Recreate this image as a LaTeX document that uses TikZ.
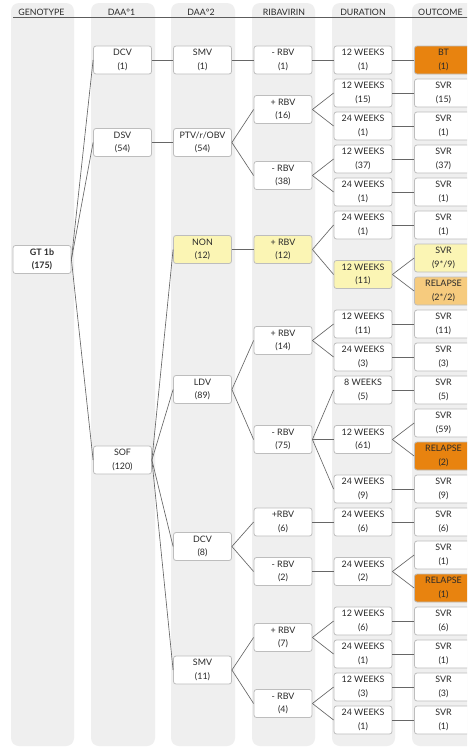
\documentclass[tikz,border=0pt]{standalone}
\usepackage{fontspec}
\setmainfont{Lato}
\definecolor{colbg}{HTML}{EFEFEF}
\definecolor{boxline}{HTML}{BDBDBD}
\definecolor{yel}{HTML}{FBF5B4}
\definecolor{lor}{HTML}{F6CB7E}
\definecolor{ora}{HTML}{E8830F}
\definecolor{conncol}{HTML}{666666}
\definecolor{txt}{HTML}{2A2A2A}
\tikzset{
  box/.style={draw=boxline, line width=0.8pt, fill=white, rounded corners=2.5pt,
    minimum width=58pt, minimum height=28pt, inner sep=0pt, align=center,
    text=txt, font=\fontsize{8.9}{13.5}\selectfont},
  wht/.style={},
  yelbox/.style={fill=yel},
  lorbox/.style={fill=lor},
  orabox/.style={fill=ora},
  conn/.style={draw=conncol, line width=0.65pt},
  colstrip/.style={fill=colbg, rounded corners=8pt, draw=none},
  hdr/.style={anchor=base, text=txt, font=\fontsize{8.8}{10}\selectfont, inner sep=0pt}
}
\begin{document}
\begin{tikzpicture}[x=1pt, y=-1pt]
\clip (0,0) rectangle (467,747);
\fill[white] (0,0) rectangle (467,747);
% column strips
\foreach \xa/\xb in {11/74, 91/155, 171/235, 252/315, 332/395, 412/480}
  \path[colstrip] (\xa,3) rectangle (\xb,746);
% headers
\node[hdr] (h0) at (41.5,15.5) {GENOTYPE};
\node[hdr] (h1) at (121.5,15.5) {DAA°1};
\node[hdr] (h2) at (201,15.5) {DAA°2};
\node[hdr] (h3) at (284,15.5) {RIBAVIRIN};
\node[hdr] (h4) at (363,15.5) {DURATION};
\node[hdr, anchor=base west] (h5) at (418,15.5) {OUTCOME};
\coordinate (hl) at (13,17.8);
\coordinate (hr) at (470,17.8);
\draw[draw=conncol!90!black, line width=0.9pt] (hl) -- (hr);
% genotype
\node[box, font=\fontsize{8.9}{13.5}\selectfont\bfseries] (gt) at (42,259.5) {GT 1b\\(175)};
% DAA 1
\foreach \n/\y/\s/\t in {d1a/60/wht/{DCV\\(1)}, d1b/142.5/wht/{DSV\\(54)}, d1c/460/wht/{SOF\\(120)}}
  \node[box,\s] (\n) at (122.5,\y) {\t};
% DAA 2
\foreach \n/\y/\s/\t in {d2a/60/wht/{SMV\\(1)}, d2b/142.5/wht/{PTV/\textit{r}/OBV\\(54)},
  d2c/249.5/yelbox/{NON\\(12)}, d2d/389.5/wht/{LDV\\(89)}, d2e/546.5/wht/{DCV\\(8)},
  d2f/670/wht/{SMV\\(11)}}
  \node[box,\s] (\n) at (202.5,\y) {\t};
% Ribavirin
\foreach \n/\y/\s/\t in {r1/60/wht/{- RBV\\(1)}, r2/109.5/wht/{+ RBV\\(16)},
  r3/175.5/wht/{- RBV\\(38)}, r4/249.5/yelbox/{+ RBV\\(12)}, r5/340.5/wht/{+ RBV\\(14)},
  r6/439.5/wht/{- RBV\\(75)}, r7/522/wht/{+RBV\\(6)}, r8/571.5/wht/{- RBV\\(2)},
  r9/637.5/wht/{+ RBV\\(7)}, r10/703.5/wht/{- RBV\\(4)}}
  \node[box,\s] (\n) at (283,\y) {\t};
% Duration
\foreach \n/\y/\s/\t in {du1/60/wht/{12 WEEKS\\(1)}, du2/93/wht/{12 WEEKS\\(15)},
  du3/126/wht/{24 WEEKS\\(1)}, du4/159/wht/{12 WEEKS\\(37)}, du5/192/wht/{24 WEEKS\\(1)},
  du6/225/wht/{24 WEEKS\\(1)}, du7/274.5/yelbox/{12 WEEKS\\(11)}, du8/324/wht/{12 WEEKS\\(11)},
  du9/357/wht/{24 WEEKS\\(3)}, du10/390/wht/{8 WEEKS\\(5)}, du11/439.5/wht/{12 WEEKS\\(61)},
  du12/489/wht/{24 WEEKS\\(9)}, du13/522/wht/{24 WEEKS\\(6)}, du14/571.5/wht/{24 WEEKS\\(2)},
  du15/621/wht/{12 WEEKS\\(6)}, du16/654/wht/{24 WEEKS\\(1)}, du17/687/wht/{12 WEEKS\\(3)},
  du18/720/wht/{24 WEEKS\\(1)}}
  \node[box,\s] (\n) at (363,\y) {\t};
% Outcome
\foreach \n/\y/\s/\t in {o1/60/orabox/{BT\\(1)}, o2/93/wht/{SVR\\(15)}, o3/126/wht/{SVR\\(1)},
  o4/159/wht/{SVR\\(37)}, o5/192/wht/{SVR\\(1)}, o6/225/wht/{SVR\\(1)},
  o7/258/yelbox/{SVR\\(9*/9)}, o8/291/lorbox/{RELAPSE\\(2*/2)}, o9/324/wht/{SVR\\(11)},
  o10/357/wht/{SVR\\(3)}, o11/390/wht/{SVR\\(5)}, o12/423/wht/{SVR\\(59)},
  o13/456/orabox/{RELAPSE\\(2)}, o14/489/wht/{SVR\\(9)}, o15/522/wht/{SVR\\(6)},
  o16/555/wht/{SVR\\(1)}, o17/588/orabox/{RELAPSE\\(1)}, o18/621/wht/{SVR\\(6)},
  o19/654/wht/{SVR\\(1)}, o20/687/wht/{SVR\\(3)}, o21/720/wht/{SVR\\(1)}}
  \node[box,\s] (\n) at (443.5,\y) {\t};
% connectors
\foreach \a/\b in {gt/d1a, gt/d1b, gt/d1c,
  d1a/d2a, d1b/d2b, d1c/d2c, d1c/d2d, d1c/d2e, d1c/d2f,
  d2a/r1, d2b/r2, d2b/r3, d2c/r4, d2d/r5, d2d/r6, d2e/r7, d2e/r8, d2f/r9, d2f/r10,
  r1/du1, r2/du2, r2/du3, r3/du4, r3/du5, r4/du6, r4/du7, r5/du8, r5/du9,
  r6/du10, r6/du11, r6/du12, r7/du13, r8/du14, r9/du15, r9/du16, r10/du17, r10/du18,
  du1/o1, du2/o2, du3/o3, du4/o4, du5/o5, du6/o6, du7/o7, du7/o8, du8/o9, du9/o10,
  du10/o11, du11/o12, du11/o13, du12/o14, du13/o15, du14/o16, du14/o17, du15/o18,
  du16/o19, du17/o20, du18/o21}
  \draw[conn] (\a.east) -- (\b.west);
\end{tikzpicture}
\end{document}
